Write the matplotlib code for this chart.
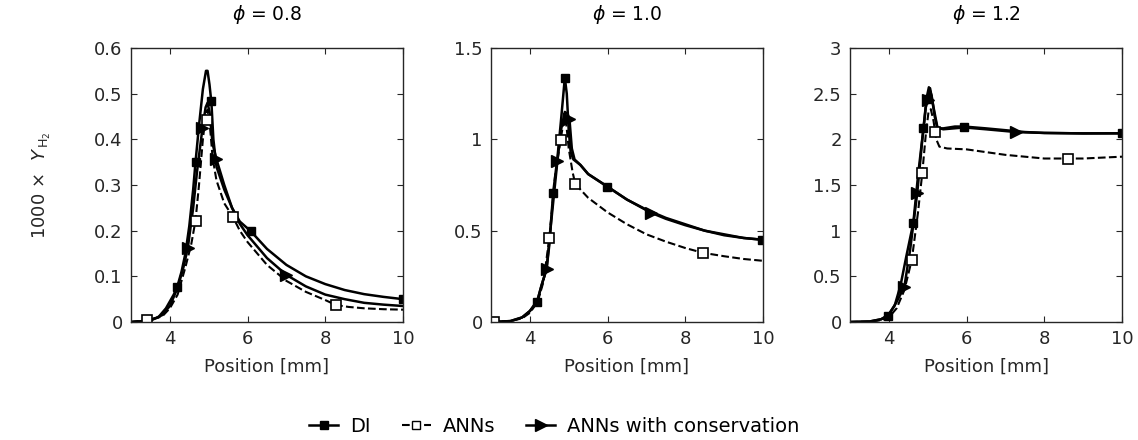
import numpy as np
import matplotlib
matplotlib.use('Agg')
import matplotlib.pyplot as plt
from matplotlib.ticker import FormatStrFormatter

plt.rcParams['font.family'] = ['DejaVu Sans']
plt.rcParams['mathtext.fontset'] = 'dejavusans'

phis = ['0.8', '1.0', '1.2']
ylims = [0.6, 1.5, 3.0]
yticks = [[0, 0.1, 0.2, 0.3, 0.4, 0.5, 0.6], [0, 0.5, 1, 1.5], [0, 0.5, 1, 1.5, 2, 2.5, 3]]

# ---- phi = 0.8 ----
di1_x = [3.0, 3.4, 3.7, 3.9, 4.1, 4.2, 4.3, 4.4, 4.5, 4.6, 4.66, 4.75, 4.85, 4.93, 4.97, 5.02, 5.07, 5.12, 5.2, 5.4, 5.6, 5.8, 6.08, 6.5, 7.0, 7.5, 8.0, 8.5, 9.0, 9.5, 10.0]
di1_y = [0.0, 0.002, 0.01, 0.03, 0.06, 0.08, 0.11, 0.15, 0.21, 0.29, 0.35, 0.43, 0.51, 0.55, 0.55, 0.52, 0.48, 0.40, 0.34, 0.29, 0.25, 0.22, 0.199, 0.16, 0.125, 0.10, 0.083, 0.07, 0.061, 0.055, 0.05]
ann1_x = [3.0, 3.4, 3.8, 4.0, 4.2, 4.4, 4.55, 4.66, 4.75, 4.85, 4.92, 4.97, 5.02, 5.1, 5.2, 5.4, 5.63, 5.8, 6.0, 6.5, 7.0, 7.5, 8.0, 8.28, 8.6, 9.0, 9.5, 10.0]
ann1_y = [0.0, 0.004, 0.012, 0.03, 0.06, 0.12, 0.17, 0.222, 0.30, 0.40, 0.45, 0.465, 0.44, 0.36, 0.31, 0.26, 0.229, 0.20, 0.175, 0.125, 0.09, 0.066, 0.048, 0.037, 0.033, 0.03, 0.028, 0.027]
con1_x = [3.0, 3.5, 3.8, 4.0, 4.2, 4.35, 4.46, 4.6, 4.7, 4.84, 4.92, 4.97, 5.02, 5.1, 5.2, 5.4, 5.6, 5.8, 6.0, 6.5, 7.0, 7.5, 8.0, 8.5, 9.0, 9.5, 10.0]
con1_y = [0.0, 0.003, 0.015, 0.035, 0.075, 0.12, 0.161, 0.25, 0.33, 0.425, 0.47, 0.48, 0.46, 0.39, 0.356, 0.30, 0.25, 0.215, 0.19, 0.14, 0.103, 0.078, 0.06, 0.05, 0.042, 0.038, 0.035]
di1_mx = [4.18, 4.66, 5.07, 6.08, 10.0]
di1_my = [0.076, 0.351, 0.484, 0.199, 0.05]
ann1_mx = [3.40, 4.66, 4.95, 5.63, 8.28]
ann1_my = [0.004, 0.222, 0.442, 0.229, 0.037]
con1_mx = [4.46, 4.84, 5.20, 6.98]
con1_my = [0.161, 0.425, 0.356, 0.104]

# ---- phi = 1.0 ----
di2_x = [3.0, 3.5, 3.8, 4.0, 4.18, 4.3, 4.43, 4.5, 4.6, 4.71, 4.8, 4.9, 4.95, 5.0, 5.05, 5.12, 5.3, 5.5, 6.0, 6.5, 7.0, 7.5, 8.0, 8.5, 9.0, 9.5, 10.0]
di2_y = [0.0, 0.005, 0.025, 0.06, 0.108, 0.2, 0.29, 0.42, 0.708, 0.90, 1.1, 1.337, 1.25, 1.05, 0.93, 0.89, 0.86, 0.81, 0.741, 0.67, 0.615, 0.57, 0.535, 0.50, 0.48, 0.46, 0.45]
ann2_x = [3.0, 3.5, 3.8, 4.0, 4.2, 4.35, 4.5, 4.65, 4.79, 4.87, 4.92, 5.0, 5.1, 5.17, 5.5, 6.0, 6.5, 7.0, 7.5, 8.0, 8.45, 9.0, 9.5, 10.0]
ann2_y = [0.0, 0.005, 0.02, 0.05, 0.11, 0.22, 0.458, 0.8, 0.996, 1.1, 1.12, 0.95, 0.82, 0.755, 0.68, 0.60, 0.535, 0.48, 0.44, 0.405, 0.379, 0.36, 0.345, 0.335]
con2_x = [3.0, 3.5, 3.8, 4.0, 4.2, 4.3, 4.43, 4.55, 4.71, 4.8, 4.9, 4.97, 5.02, 5.08, 5.15, 5.3, 5.5, 6.0, 6.5, 7.13, 7.5, 8.0, 8.5, 9.0, 9.5, 10.0]
con2_y = [0.0, 0.005, 0.025, 0.06, 0.12, 0.2, 0.29, 0.55, 0.883, 1.05, 1.15, 1.14, 1.109, 0.95, 0.89, 0.86, 0.81, 0.74, 0.67, 0.597, 0.565, 0.53, 0.50, 0.475, 0.46, 0.45]
di2_mx = [4.18, 4.60, 4.90, 5.99, 9.97]
di2_my = [0.108, 0.708, 1.337, 0.741, 0.45]
ann2_mx = [3.08, 4.50, 4.79, 5.17, 8.45]
ann2_my = [0.0, 0.458, 0.996, 0.755, 0.379]
con2_mx = [4.43, 4.71, 5.02, 7.13]
con2_my = [0.29, 0.883, 1.109, 0.597]

# ---- phi = 1.2 ----
di3_x = [3.0, 3.5, 3.8, 3.97, 4.15, 4.3, 4.45, 4.63, 4.75, 4.89, 4.97, 5.03, 5.1, 5.18, 5.25, 5.4, 5.7, 5.94, 6.5, 7.0, 7.5, 8.0, 9.0, 10.0]
di3_y = [0.0, 0.005, 0.03, 0.069, 0.18, 0.4, 0.72, 1.087, 1.6, 2.12, 2.45, 2.57, 2.48, 2.25, 2.12, 2.12, 2.14, 2.14, 2.12, 2.10, 2.08, 2.07, 2.065, 2.066]
ann3_x = [3.0, 3.5, 3.8, 4.0, 4.2, 4.4, 4.59, 4.75, 4.86, 4.95, 5.02, 5.08, 5.15, 5.22, 5.3, 5.5, 6.0, 6.5, 7.0, 7.5, 8.0, 8.6, 9.0, 9.5, 10.0]
ann3_y = [0.0, 0.004, 0.02, 0.05, 0.15, 0.35, 0.68, 1.2, 1.63, 2.05, 2.3, 2.33, 2.2, 2.0, 1.92, 1.9, 1.89, 1.86, 1.83, 1.81, 1.79, 1.79, 1.79, 1.80, 1.81]
con3_x = [3.0, 3.5, 3.8, 4.0, 4.2, 4.4, 4.55, 4.73, 4.85, 4.95, 5.02, 5.06, 5.15, 5.25, 5.4, 5.94, 6.5, 7.27, 8.0, 9.0, 10.0]
con3_y = [0.0, 0.005, 0.03, 0.08, 0.22, 0.387, 0.8, 1.41, 1.95, 2.35, 2.45, 2.56, 2.35, 2.13, 2.11, 2.13, 2.11, 2.08, 2.07, 2.065, 2.066]
di3_mx = [3.97, 4.63, 4.89, 4.99, 5.94, 9.99]
di3_my = [0.069, 1.087, 2.12, 2.44, 2.13, 2.066]
ann3_mx = [4.59, 4.86, 5.20, 8.60]
ann3_my = [0.68, 1.63, 2.08, 1.79]
con3_mx = [4.40, 4.73, 5.02, 7.27]
con3_my = [0.387, 1.41, 2.43, 2.08]

panels = [
    (di1_x, di1_y, ann1_x, ann1_y, con1_x, con1_y, di1_mx, di1_my, ann1_mx, ann1_my, con1_mx, con1_my),
    (di2_x, di2_y, ann2_x, ann2_y, con2_x, con2_y, di2_mx, di2_my, ann2_mx, ann2_my, con2_mx, con2_my),
    (di3_x, di3_y, ann3_x, ann3_y, con3_x, con3_y, di3_mx, di3_my, ann3_mx, ann3_my, con3_mx, con3_my),
]

gray = '#262626'
fig = plt.figure(figsize=(11.38, 4.40), dpi=100)
lefts = [131 / 1138, 491 / 1138, 850 / 1138]
for i, p in enumerate(panels):
    ax = fig.add_axes([lefts[i], 1 - 322 / 440, 272 / 1138, 274 / 440])
    dx, dy, ax_, ay, cx, cy, dmx, dmy, amx, amy, cmx, cmy = p
    ax.plot(ax_, ay, '--', color='k', lw=1.5)
    ax.plot(cx, cy, '-', color='k', lw=1.8)
    ax.plot(dx, dy, '-', color='k', lw=1.8)
    ax.plot(dmx, dmy, 's', color='k', ms=6, ls='none')
    ax.plot(amx, amy, 's', mfc='white', mec='k', mew=1.2, ms=6.5, ls='none')
    ax.plot(cmx, cmy, '>', color='k', ms=8, ls='none')
    ax.set_xlim(3, 10)
    ax.set_ylim(0, ylims[i])
    ax.set_xticks([4, 6, 8, 10])
    ax.set_yticks(yticks[i])
    ax.yaxis.set_major_formatter(FormatStrFormatter('%g'))
    ax.tick_params(direction='in', top=True, right=True, length=4, width=0.8,
                   colors=gray, labelsize=13, pad=6)
    for s in ax.spines.values():
        s.set_color(gray)
        s.set_linewidth(1.0)
    ax.set_xlabel('Position [mm]', fontsize=13, color=gray, labelpad=7)
    ax.set_title(r'$\phi$ = ' + phis[i], fontsize=13.5, color='k', pad=20)
    if i == 0:
        ax.set_ylabel(r'1000 $\times$  $Y_{\,\mathrm{H}_2}$', fontsize=13, color=gray, labelpad=30)

h1, = plt.plot([], [], '-s', color='k', lw=1.8, ms=6)
h2, = plt.plot([], [], '--s', color='k', lw=1.5, mfc='white', mec='k', ms=6)
h3, = plt.plot([], [], '->', color='k', lw=1.8, ms=8)
fig.legend([h1, h2, h3], ['DI', 'ANNs', 'ANNs with conservation'], loc='center',
           bbox_to_anchor=(0.487, 0.03), ncol=3, frameon=False, fontsize=14,
           handlelength=1.5, columnspacing=1.6, handletextpad=0.6)

fig.savefig('out.png', dpi=100)
